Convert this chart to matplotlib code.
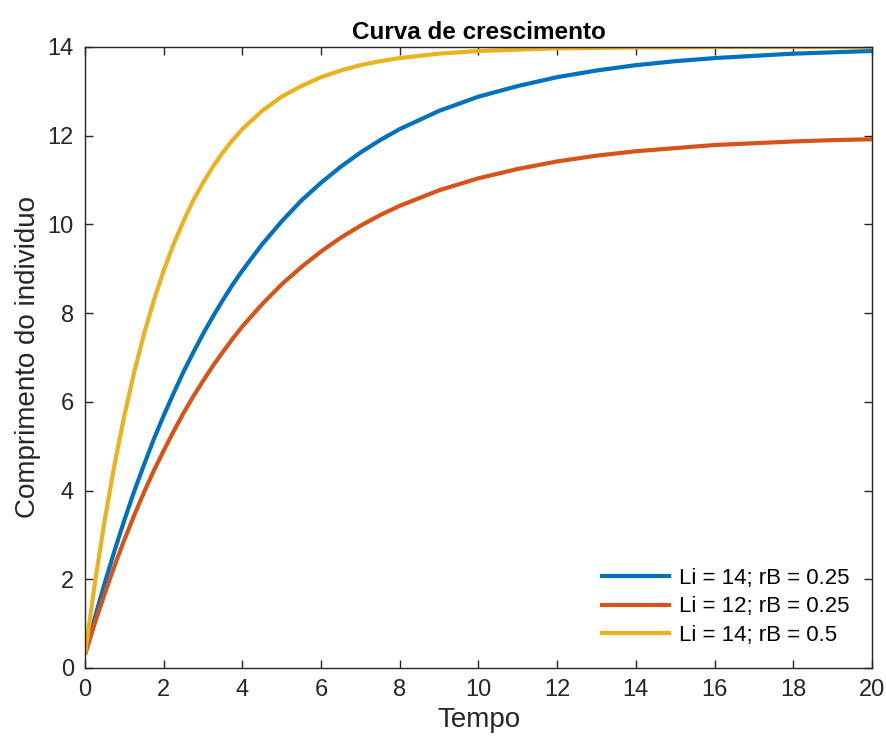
import matplotlib
matplotlib.use('Agg')
import matplotlib.pyplot as plt

# Values
tempo = [0, 0.25, 0.5, 0.75, 1, 1.25, 1.5, 1.75, 2, 2.25, 2.5, 2.75, 3, 3.25, 3.5, 3.75, 4,
         4.5, 5, 5.5, 6, 6.5, 7, 7.5, 8,
         9, 10, 11, 12, 13, 14, 15, 16, 17, 18, 19, 20]
li14_rb025 = [0.30, 1.13, 1.91, 2.64, 3.33, 3.98, 4.58, 5.16, 5.69, 6.19, 6.67, 7.11, 7.53, 7.92, 8.29, 8.64, 8.96,
              9.55, 10.07, 10.54, 10.94, 11.30, 11.62, 11.90, 12.15,
              12.56, 12.88, 13.12, 13.32, 13.47, 13.59, 13.68, 13.75, 13.80, 13.85, 13.88, 13.91]
li12_rb025 = [0.30, 1.01, 1.67, 2.30, 2.89, 3.44, 3.96, 4.45, 4.90, 5.33, 5.74, 6.12, 6.47, 6.81, 7.12, 7.42, 7.70,
              8.20, 8.65, 9.04, 9.39, 9.70, 9.97, 10.21, 10.42,
              10.77, 11.04, 11.25, 11.42, 11.55, 11.65, 11.72, 11.79, 11.83, 11.87, 11.90, 11.92]
li14_rb05 = [0.30, 1.91, 3.33, 4.58, 5.69, 6.67, 7.53, 8.29, 8.96, 9.55, 10.07, 10.54, 10.94, 11.30, 11.62, 11.90, 12.15,
             12.56, 12.88, 13.12, 13.32, 13.47, 13.59, 13.68, 13.75,
             13.85, 13.91, 13.94, 13.97, 13.98, 13.99, 13.99, 14.00, 14.00, 14.00, 14.00, 14.00]
labels = ['Li = 14; rB = 0.25', 'Li = 12; rB = 0.25', 'Li = 14; rB = 0.5']
colors = ['#0072BD', '#D95319', '#EDB120']

plt.rcParams['font.family'] = ['Liberation Sans', 'DejaVu Sans']

fig = plt.figure(figsize=(8.87, 7.46), dpi=100)
ax = fig.add_axes([0.0958, 0.1046, 0.8872, 0.8324])

for serie, label, color in zip([li14_rb025, li12_rb025, li14_rb05], labels, colors):
    ax.plot(tempo, serie, color=color, linewidth=3.0, label=label,
            solid_capstyle='butt', solid_joinstyle='round')

ax.set_xlim(0, 20)
ax.set_ylim(0, 14)
ax.set_xticks(range(0, 21, 2))
ax.set_yticks(range(0, 15, 2))

dark = '#262626'
for spine in ax.spines.values():
    spine.set_color(dark)
    spine.set_linewidth(1.0)
ax.tick_params(direction='in', length=6, width=1.0, colors=dark, labelsize=17,
               top=True, right=True, pad=8)

ax.set_xlabel('Tempo', fontsize=20, color=dark, labelpad=4)
ax.set_ylabel('Comprimento do individuo', fontsize=20, color=dark, labelpad=5)
ax.set_title('Curva de crescimento', fontsize=17.5, fontweight='bold', color='black', pad=6)

ax.legend(loc='lower right', frameon=False, fontsize=16, handlelength=3.2,
          handletextpad=0.35, labelspacing=0.33, borderaxespad=0.6)

fig.savefig('out.png', dpi=100)
